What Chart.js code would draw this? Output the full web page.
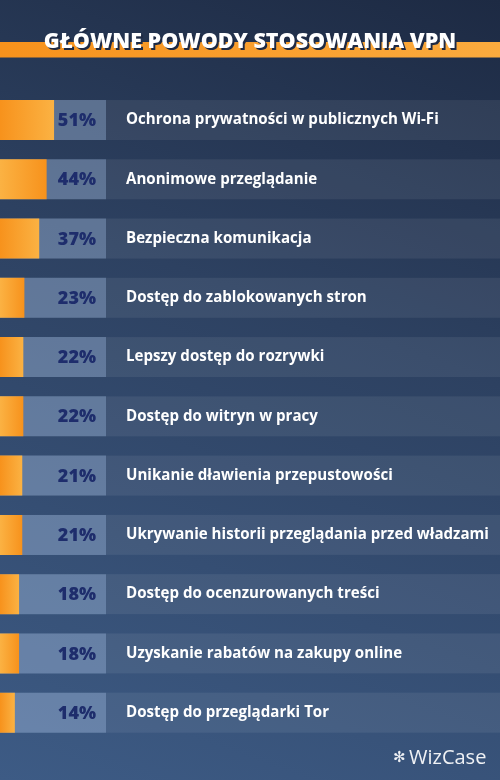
<!DOCTYPE html>
<html>
<head>
<meta charset="utf-8">
<script src="https://cdn.jsdelivr.net/npm/chart.js@4.4.0/dist/chart.umd.min.js"></script>
<style>
  html, body { margin: 0; padding: 0; }
  body {
    width: 500px; height: 780px; overflow: hidden;
    background: linear-gradient(200deg, #1d2a43 0%, #2d4161 40%, #3d5b85 100%);
  }
  #wrap { position: relative; width: 500px; height: 780px; }
</style>
</head>
<body>
<div id="wrap"><canvas id="vpnChart" width="500" height="780"></canvas></div>
<script>
// dane
const tytul = 'GŁÓWNE POWODY STOSOWANIA VPN';
const powody = [
    'Ochrona prywatności w publicznych Wi-Fi',
    'Anonimowe przeglądanie',
    'Bezpieczna komunikacja',
    'Dostęp do zablokowanych stron',
    'Lepszy dostęp do rozrywki',
    'Dostęp do witryn w pracy',
    'Unikanie dławienia przepustowości',
    'Ukrywanie historii przeglądania przed władzami',
    'Dostęp do ocenzurowanych treści',
    'Uzyskanie rabatów na zakupy online',
    'Dostęp do przeglądarki Tor'
];
const procenty = [51, 44, 37, 23, 22, 22, 21, 21, 18, 18, 14];
const pelnaSkala = powody.map(() => 100); // tło paska = 100%

function orangeGradient(context) {
    const chart = context.chart;
    const x = chart.scales.x;
    if (!x || !chart.chartArea) return '#f7941d';
    const x0 = x.getPixelForValue(0);
    const x1 = x.getPixelForValue(procenty[context.dataIndex]);
    const g = chart.ctx.createLinearGradient(x0, 0, Math.max(x1, x0 + 1), 0);
    if (context.dataIndex % 2 === 0) {
        g.addColorStop(0, '#f7921c');
        g.addColorStop(1, '#fbb243');
    } else {
        g.addColorStop(0, '#fbb243');
        g.addColorStop(1, '#f7921c');
    }
    return g;
}

// tło, tytuł, pasy wierszy
const dekoracje = {
    id: 'dekoracje',
    beforeDatasetsDraw(chart) {
        const ctx = chart.ctx;
        const meta = chart.getDatasetMeta(0);
        ctx.save();
        ctx.fillStyle = 'rgba(255,255,255,0.07)';
        meta.data.forEach(el => {
            ctx.fillRect(0, el.y - el.height / 2, chart.width, el.height);
        });
        ctx.restore();
    },
    afterDraw(chart) {
        const ctx = chart.ctx;
        ctx.save();
        // pasek pod tytułem
        const g = ctx.createLinearGradient(0, 0, chart.width, 0);
        g.addColorStop(0, '#f7921c');
        g.addColorStop(1, '#fbab3e');
        ctx.fillStyle = g;
        ctx.fillRect(0, 42, chart.width, 15.5);
        ctx.font = '800 21.5px "Open Sans"';
        ctx.textAlign = 'center';
        ctx.textBaseline = 'alphabetic';
        ctx.fillStyle = '#1e2a44';
        ctx.fillText(tytul, 252, 50);
        ctx.fillStyle = '#ffffff';
        ctx.fillText(tytul, 250, 48);

        // logo
        ctx.font = '20px "Open Sans"';
        ctx.textAlign = 'left';
        ctx.fillStyle = 'rgba(255,255,255,0.92)';
        ctx.fillText('WizCase', 409, 764);
        ctx.font = '15px "DejaVu Sans"';
        ctx.fillText('✻', 393, 762);
        ctx.restore();
    },
    afterDatasetsDraw(chart) {
        const ctx = chart.ctx;
        const x = chart.scales.x;
        const meta = chart.getDatasetMeta(0);
        const koniec = x.getPixelForValue(100);
        ctx.save();
        ctx.textBaseline = 'middle';
        meta.data.forEach((el, i) => {
            ctx.font = '800 18px "Open Sans"';
            ctx.textAlign = 'right';
            ctx.fillStyle = '#1e2d6c';
            ctx.fillText(procenty[i] + '%', koniec - 10, el.y + 1);
            ctx.font = 'bold 15.1px "Open Sans"';
            ctx.textAlign = 'left';
            ctx.fillStyle = '#ffffff';
            ctx.fillText(powody[i], koniec + 20, el.y);
        });
        ctx.restore();
    }
};

new Chart(document.getElementById('vpnChart'), {
    type: 'bar',
    data: {
        labels: powody,
        datasets: [{
            label: 'Procent',
            data: procenty,
            backgroundColor: orangeGradient,
            grouped: false,
            order: 0
        }, {
            label: 'Skala',
            data: pelnaSkala,
            backgroundColor: 'rgba(160,188,228,0.36)',
            grouped: false,
            order: 1
        }]
    },
    options: {
        indexAxis: 'y',
        responsive: false,
        animation: false,
        devicePixelRatio: 1,
        barPercentage: 0.675,
        categoryPercentage: 1,
        layout: {
            padding: { top: 90.4, bottom: 37.7, left: 0, right: 0 }
        },
        plugins: {
            legend: { display: false },
            tooltip: { enabled: false },
            title: { display: false }
        },
        scales: {
            x: {
                display: false,
                min: 0,
                max: 100 * 500 / 106
            },
            y: {
                display: false
            }
        }
    },
    plugins: [dekoracje]
});
</script>
</body>
</html>
